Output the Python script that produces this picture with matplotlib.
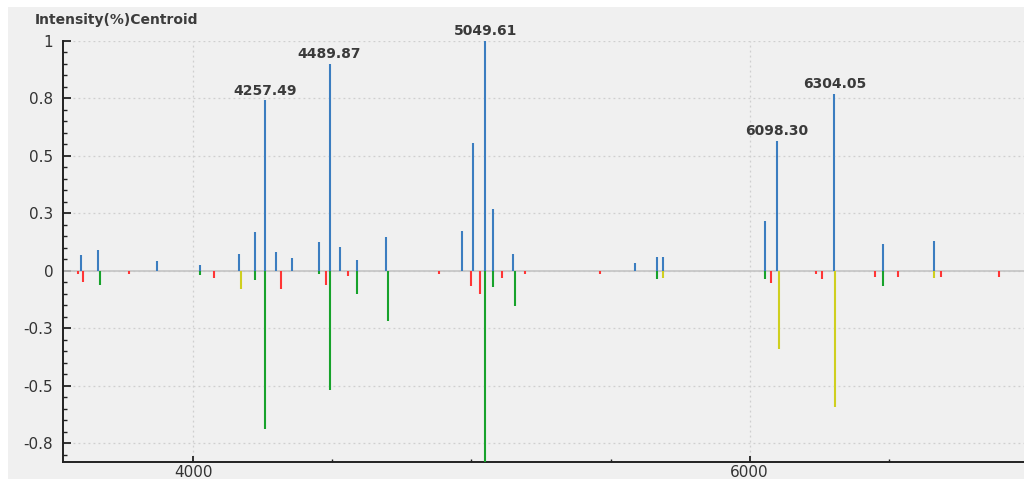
import matplotlib.pyplot as plt
from matplotlib.patches import Rectangle
from matplotlib.ticker import MultipleLocator, FixedLocator

plt.rcParams['font.family'] = ['DejaVu Sans']

# centroid peaks (m/z, relative intensity); measured spectrum points up
blue_mz = [3597.8, 3659.0, 3870.0, 4025.5, 4164.6, 4221.0, 4257.49, 4297.6, 4354.0,
           4453.0, 4489.87, 4526.5, 4587.6, 4694.0, 4966.0, 5004.5, 5049.61, 5077.5,
           5149.3, 5589.0, 5667.0, 5688.4, 6055.0, 6098.30, 6304.05, 6478.0, 6661.0]
blue_int = [0.07, 0.09, 0.042, 0.025, 0.074, 0.17, 0.742, 0.08, 0.054,
            0.125, 0.90, 0.103, 0.046, 0.148, 0.174, 0.554, 1.0, 0.269,
            0.074, 0.032, 0.062, 0.058, 0.215, 0.566, 0.77, 0.118, 0.129]

# matched reference peaks point down, coloured by match class
green_mz = [3665.0, 4025.5, 4221.0, 4257.49, 4453.0, 4489.87, 4587.6, 4699.0,
            5049.61, 5077.5, 5155.4, 5667.0, 6055.0, 6478.0]
green_int = [-0.062, -0.019, -0.042, -0.688, -0.013, -0.52, -0.103, -0.22,
             -0.95, -0.071, -0.155, -0.036, -0.036, -0.065]

yellow_mz = [4170.7, 5688.4, 6104.0, 6306.5, 6661.0]
yellow_int = [-0.08, -0.033, -0.341, -0.594, -0.032]

red_mz = [3587.0, 3602.9, 3770.4, 4075.8, 4314.5, 4476.0, 4555.0, 4882.3, 4998.4,
          5031.8, 5111.0, 5193.5, 5461.0, 6077.6, 6239.3, 6261.0, 6450.3, 6533.0,
          6688.6, 6895.0]
red_int = [-0.015, -0.048, -0.013, -0.033, -0.08, -0.061, -0.023, -0.013, -0.065,
           -0.1, -0.032, -0.015, -0.015, -0.054, -0.013, -0.036, -0.028, -0.028,
           -0.028, -0.025]

labeled_mz = [4257.49, 4489.87, 5049.61, 6098.30, 6304.05]

y_ticks = [-0.75, -0.5, -0.25, 0, 0.25, 0.5, 0.75, 1.0]
y_ticklabels = ['-0.8', '-0.5', '-0.3', '0', '0.3', '0.5', '0.8', '1']

W, H = 1024, 479
bg = '#f0f0f0'
fig = plt.figure(figsize=(W / 100, H / 100), dpi=100, facecolor=bg)
# thin white margin along the top and left edges
fig.patches.append(Rectangle((0, 1 - 7 / H), 1, 7 / H, transform=fig.transFigure,
                             facecolor='white', edgecolor='none', zorder=-1))
fig.patches.append(Rectangle((0, 0), 8 / W, 1, transform=fig.transFigure,
                             facecolor='white', edgecolor='none', zorder=-1))
ax = fig.add_axes([63 / W, 1 - 462 / H, 1 - 63 / W, (462 - 41) / H])
ax.set_facecolor(bg)

ax.axhline(0, color='#c4c4c4', linewidth=1.2, zorder=1)
lw = 1.5
ax.vlines(blue_mz, 0, blue_int, colors='#3b7dc0', linewidth=lw, zorder=3)
ax.vlines(green_mz, 0, green_int, colors='#17a22b', linewidth=lw, zorder=3)
ax.vlines(yellow_mz, 0, yellow_int, colors='#cfcf1f', linewidth=lw, zorder=3)
ax.vlines(red_mz, 0, red_int, colors='#ff3535', linewidth=lw, zorder=3)

for mz in labeled_mz:
    val = blue_int[blue_mz.index(mz)]
    ax.annotate(f'{mz:.2f}', (mz, val), xytext=(0, 2), textcoords='offset points',
                ha='center', va='bottom', fontsize=10, fontweight='bold',
                color='#3a3a3a', annotation_clip=False)

ax.set_xlim(3532, 6986)
ax.set_ylim(-0.832, 1.0)

ax.xaxis.set_major_locator(FixedLocator([4000, 6000]))
ax.xaxis.set_minor_locator(MultipleLocator(500))
ax.set_yticks(y_ticks)
ax.set_yticklabels(y_ticklabels)
ax.yaxis.set_minor_locator(MultipleLocator(0.05))

ax.tick_params(axis='both', which='both', direction='in', colors='#222222',
               labelcolor='#333333', labelsize=11)
ax.tick_params(axis='y', which='major', length=6, width=1.3, pad=7)
ax.tick_params(axis='y', which='minor', length=3, width=1.0)
ax.tick_params(axis='x', which='major', length=4, width=1.3, pad=2.5)
ax.tick_params(axis='x', which='minor', length=2, width=1.0)

ax.grid(True, which='major', color='#cfcfcf', linestyle=(0, (1.5, 2.5)), linewidth=0.9)
ax.set_axisbelow(True)

for side in ['top', 'right']:
    ax.spines[side].set_visible(False)
for side in ['left', 'bottom']:
    ax.spines[side].set_color('#222222')
    ax.spines[side].set_linewidth(1.4)

fig.text(35 / W, 1 - 20 / H, 'Intensity(%)Centroid', ha='left', va='center',
         fontsize=10, fontweight='bold', color='#3c3c3c')

fig.savefig('out.png', dpi=100, facecolor=fig.get_facecolor())
